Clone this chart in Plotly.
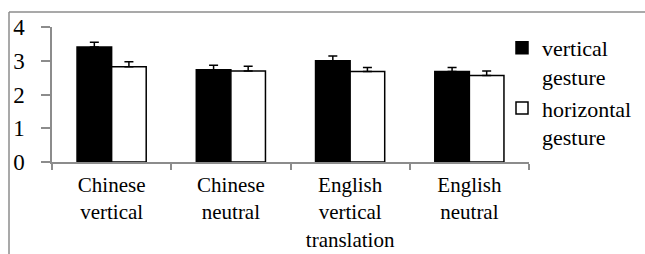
import plotly.graph_objects as go

categories = ["Chinese<br>vertical", "Chinese<br>neutral", "English<br>vertical<br>translation", "English<br>neutral"]
vertical_vals = [3.41, 2.73, 3.00, 2.68]
vertical_err = [0.14, 0.14, 0.14, 0.12]
horizontal_vals = [2.82, 2.70, 2.68, 2.56]
horizontal_err = [0.15, 0.14, 0.12, 0.14]
series_names = ["vertical<br>gesture", "horizontal<br>gesture"]
y_ticks = [0, 1, 2, 3, 4]

FONT = "Times New Roman"
GRAY = "#8c8c8c"

fig = go.Figure()
fig.add_trace(go.Bar(
    x=categories, y=vertical_vals, name=series_names[0],
    marker=dict(color="black", line=dict(color="black", width=1.5)),
    error_y=dict(type="data", symmetric=False, array=vertical_err,
                 arrayminus=[0] * len(vertical_err), color="black", thickness=1.5, width=4.5),
))
fig.add_trace(go.Bar(
    x=categories, y=horizontal_vals, name=series_names[1],
    marker=dict(color="white", line=dict(color="black", width=1.5)),
    error_y=dict(type="data", symmetric=False, array=horizontal_err,
                 arrayminus=[0] * len(horizontal_err), color="black", thickness=1.5, width=4.5),
))

W, H = 645, 254
L, R, T, B = 52, 116, 27, 92
pw, ph = W - L - R, H - T - B

fig.update_layout(
    template="none",
    width=W, height=H,
    margin=dict(l=L, r=R, t=T, b=B, pad=0, autoexpand=False),
    paper_bgcolor="white", plot_bgcolor="white",
    barmode="group", bargap=0.42, bargroupgap=0,
    font=dict(family=FONT, size=21, color="black"),
    showlegend=True,
    legend=dict(x=(502 - L) / pw, y=1.0, xanchor="left", yanchor="top",
                font=dict(family=FONT, size=22, color="black"),
                bgcolor="rgba(0,0,0,0)", valign="top", itemwidth=30,
                tracegroupgap=0),
    xaxis=dict(showline=True, linecolor=GRAY, linewidth=1.5, automargin=False,
               ticks="outside", tickson="boundaries", ticklen=6, tickcolor=GRAY, tickwidth=1.5,
               showgrid=False, ticklabelstandoff=3,
               tickfont=dict(family=FONT, size=21, color="black"),
               fixedrange=True),
    yaxis=dict(range=[0, 4], tickvals=y_ticks, showline=True, linecolor=GRAY, linewidth=1.5,
               ticks="outside", ticklen=9, tickcolor=GRAY, tickwidth=1.5, automargin=False,
               showgrid=False, zeroline=False, ticklabelstandoff=12,
               tickfont=dict(family=FONT, size=23, color="black"), fixedrange=True),
    shapes=[
        dict(type="line", xref="paper", yref="paper",
             x0=(9 - L) / pw, x1=(W + 5 - L) / pw, y0=(H - B - 12) / ph, y1=(H - B - 12) / ph,
             line=dict(color=GRAY, width=1.5)),
        dict(type="line", xref="paper", yref="paper",
             x0=(9 - L) / pw, x1=(9 - L) / pw, y0=(H - B - 12) / ph, y1=-(B + 5) / ph,
             line=dict(color=GRAY, width=1.5)),
    ],
)

fig.write_html("out.html", config={"displayModeBar": False},
               post_script="document.body.style.margin='0';document.body.style.overflow='hidden';")
